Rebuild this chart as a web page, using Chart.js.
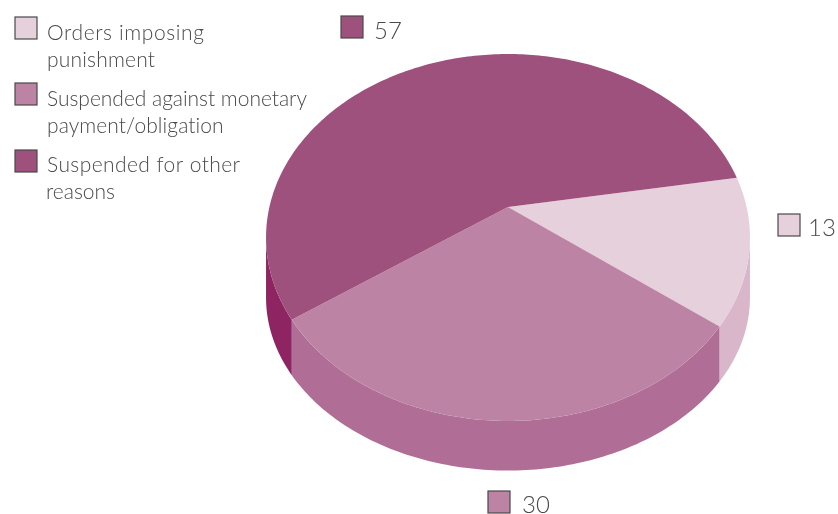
<!DOCTYPE html>
<html>
<head>
<meta charset="utf-8">
<title>Orders and suspensions</title>
<script src="https://cdn.jsdelivr.net/npm/chart.js@4"></script>
<style>
  html, body { margin: 0; padding: 0; background: #fff; }
  canvas { display: block; }
</style>
</head>
<body>
<canvas id="pieChart" width="838" height="514"></canvas>
<script>
const categories = [
    ["Orders imposing", "punishment"],
    ["Suspended against monetary", "payment/obligation"],
    ["Suspended for other", "reasons"]
];
const values = [13, 30, 57];
const topColors = ["#e6d0dc", "#bc83a5", "#9e517d"];
const sideColors = ["#dab6cb", "#b06e96", "#8e2462"];

const apex = { x: 508, y: 207 };   // where the slices meet
const persp = { a: 238.6, b: 178.4, k: 0.1662 }; // circle -> tilted disc
const ink = "#4a4a4a";
const frontFrom = 9.7 * Math.PI / 180;  // right edge of the disc
const frontTo = 170.3 * Math.PI / 180;  // left edge of the disc

// point on the rim of the top face for a canvas angle
function rim(angle) {
    const u = Math.cos(angle), v = -Math.sin(angle);
    const w = 1 + persp.k * v;
    return { x: apex.x + persp.a * u / w, y: apex.y - persp.b * v / w };
}

// same rim on the bottom face, which is a little flatter
function lowerRim(angle) {
    const p = rim(angle);
    return { x: p.x, y: 298 + (p.y - 238) * 0.943 };
}

function traceRim(ctx, fn, from, to) {
    const steps = Math.max(2, Math.ceil(Math.abs(to - from) * 60));
    for (let i = 0; i <= steps; i++) {
        const p = fn(from + (to - from) * i / steps);
        ctx.lineTo(p.x, p.y);
    }
}

function box(ctx, x, y, color) {
    ctx.fillStyle = color;
    ctx.strokeStyle = ink;
    ctx.lineWidth = 1.2;
    ctx.fillRect(x, y, 22, 22);
    ctx.strokeRect(x, y, 22, 22);
}

// text stretched to the width it has in the original typeface
function fitText(ctx, text, x, y, width) {
    ctx.letterSpacing = "0px";
    const natural = ctx.measureText(text).width;
    ctx.letterSpacing = ((width - natural) / (text.length - 1)) + "px";
    ctx.fillText(text, x, y);
}

const disc3d = {
    id: "disc3d",
    beforeDatasetDraw(chart) {
        const ctx = chart.ctx;
        const arcs = chart.getDatasetMeta(0).data;

        // side walls, only the part of each slice that faces the viewer
        arcs.forEach((arc, i) => {
            const from = Math.max(arc.startAngle, frontFrom);
            const to = Math.min(arc.endAngle, frontTo);
            if (to <= from) return;
            ctx.beginPath();
            traceRim(ctx, rim, from, to);
            traceRim(ctx, lowerRim, to, from);
            ctx.closePath();
            ctx.fillStyle = sideColors[i];
            ctx.fill();
        });

        arcs.forEach((arc, i) => {
            ctx.beginPath();
            ctx.moveTo(apex.x, apex.y);
            traceRim(ctx, rim, arc.startAngle, arc.endAngle);
            ctx.closePath();
            ctx.fillStyle = topColors[i];
            ctx.fill();
        });
        return false; // the flat arcs are not drawn
    },
    afterDraw(chart) {
        const ctx = chart.ctx;
        ctx.save();
        ctx.textBaseline = "alphabetic";

        // legend
        const legendBox = [17, 83, 150];
        const legendBase = [[40, 67], [106, 133], [172, 199]];
        const legendWidth = [[157, 108], [260, 177], [193, 69]];
        ctx.font = "300 21px Lato";
        categories.forEach((lines, i) => {
            box(ctx, 15, legendBox[i], topColors[i]);
            ctx.fillStyle = ink;
            lines.forEach((line, j) => {
                fitText(ctx, line, i === 2 && j === 1 ? 46 : 47, legendBase[i][j], legendWidth[i][j]);
            });
        });

        // value labels
        const valueBox = [[778, 214], [488, 491], [341, 16]];
        const valueText = [[808, 236], [522, 513], [374, 39]];
        ctx.font = "300 24px Lato";
        ctx.letterSpacing = "0px";
        values.forEach((value, i) => {
            box(ctx, valueBox[i][0], valueBox[i][1], topColors[i]);
            ctx.fillStyle = ink;
            ctx.fillText(String(value), valueText[i][0], valueText[i][1]);
        });
        ctx.restore();
    }
};

new Chart(document.getElementById("pieChart").getContext("2d"), {
    type: "pie",
    data: {
        labels: categories.map(lines => lines.join(" ")),
        datasets: [{ data: values, backgroundColor: topColors, borderWidth: 0 }]
    },
    options: {
        responsive: false,
        animation: false,
        rotation: 80.3,
        plugins: { legend: { display: false }, tooltip: { enabled: false } }
    },
    plugins: [disc3d]
});
</script>
</body>
</html>
